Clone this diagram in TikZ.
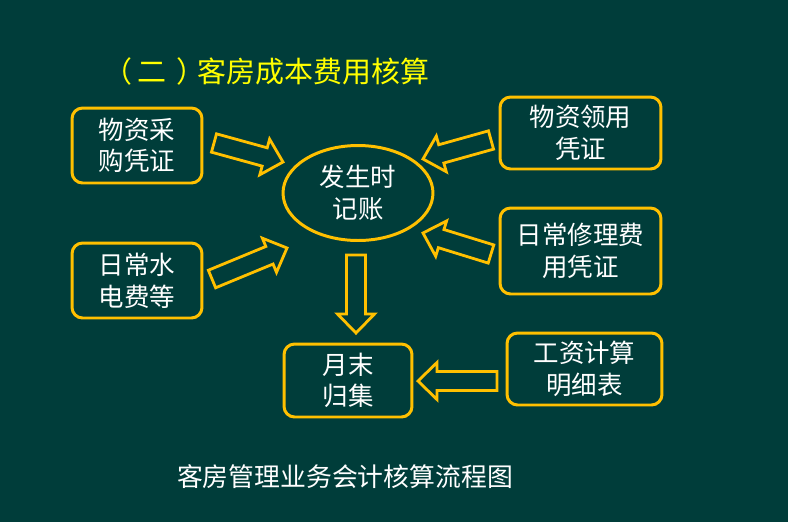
\documentclass[tikz,border=0pt]{standalone}
\usepackage{fontspec}
\usepackage{tikz}
\usetikzlibrary{calc,shapes.geometric}
\newfontfamily\cjk{Noto Sans CJK SC}
\definecolor{boardc}{HTML}{003D3A}
\definecolor{framec}{HTML}{FFC000}
\definecolor{titlec}{HTML}{FFFF00}
\tikzset{
  boxnode/.style={rectangle, rounded corners=6pt, draw=framec, line width=1.7pt,
    text=white, align=center, inner sep=0pt,
    font=\cjk\fontsize{14.5}{18}\selectfont},
  ovalnode/.style={boxnode, ellipse, rounded corners=0pt},
  arrowline/.style={draw=framec, line width=1.6pt, line join=miter},
}
% hollow block arrow from coordinate #1 to coordinate #2
\newcommand{\blockarrow}[2]{%
  \coordinate (#1h) at ($(#2)!0.38cm!(#1)$);
  \draw[arrowline] ($(#1)!0.19cm!90:(#2)$) -- ($(#1h)!0.19cm!90:(#2)$)
    -- ($(#1h)!0.37cm!90:(#2)$) -- (#2) -- ($(#1h)!0.37cm!-90:(#2)$)
    -- ($(#1h)!0.19cm!-90:(#2)$) -- ($(#1)!0.19cm!-90:(#2)$) -- cycle;
}
\begin{document}
\begin{tikzpicture}[x=0.02cm, y=-0.02cm]
  \fill[boardc] (0,0) rectangle (788,522);
  \useasboundingbox (0,0) rectangle (788,522);
  % title and caption
  \node[anchor=west, text=titlec, font=\cjk\fontsize{16.5}{20}\selectfont] (title) at (97,71)
    {（\hspace{3pt}二\hspace{6pt}）\hspace{-5pt}客房成本费用核算};
  \node[text=white, font=\cjk\fontsize{14.7}{18}\selectfont] (caption) at (345,477) {客房管理业务会计核算流程图};
  % boxes
  \node[boxnode, minimum width=2.6cm, minimum height=1.5cm] (buy) at (137,145.5) {物资采\\购凭证};
  \node[boxnode, minimum width=2.6cm, minimum height=1.5cm] (util) at (137,280.5) {日常水\\电费等};
  \node[boxnode, minimum width=3.22cm, minimum height=1.44cm] (issue) at (580.5,133) {物资领用\\凭证};
  \node[boxnode, minimum width=3.22cm, minimum height=1.72cm] (repair) at (580.5,251) {日常修理费\\用凭证};
  \node[boxnode, minimum width=3.1cm, minimum height=1.44cm] (wage) at (584.5,369) {工资计算\\明细表};
  \node[boxnode, minimum width=2.56cm, minimum height=1.46cm] (month) at (348,380.5) {月末\\归集};
  \node[ovalnode, minimum width=3.0cm, minimum height=1.9cm] (record) at (358,193) {发生时\\记账};
  % arrow ends
  \coordinate (buyS) at (214,143);    \coordinate (buyT) at (283,162);
  \coordinate (utilS) at (212,279);   \coordinate (utilT) at (287,248);
  \coordinate (issueS) at (491,140);  \coordinate (issueT) at (423,159);
  \coordinate (repairS) at (491,254); \coordinate (repairT) at (423,233);
  \coordinate (recordS) at (356,255); \coordinate (recordT) at (356,333);
  \coordinate (wageS) at (497,381);   \coordinate (wageT) at (418,381);
  \blockarrow{buyS}{buyT}
  \blockarrow{utilS}{utilT}
  \blockarrow{issueS}{issueT}
  \blockarrow{repairS}{repairT}
  \blockarrow{recordS}{recordT}
  \blockarrow{wageS}{wageT}
\end{tikzpicture}
\end{document}
